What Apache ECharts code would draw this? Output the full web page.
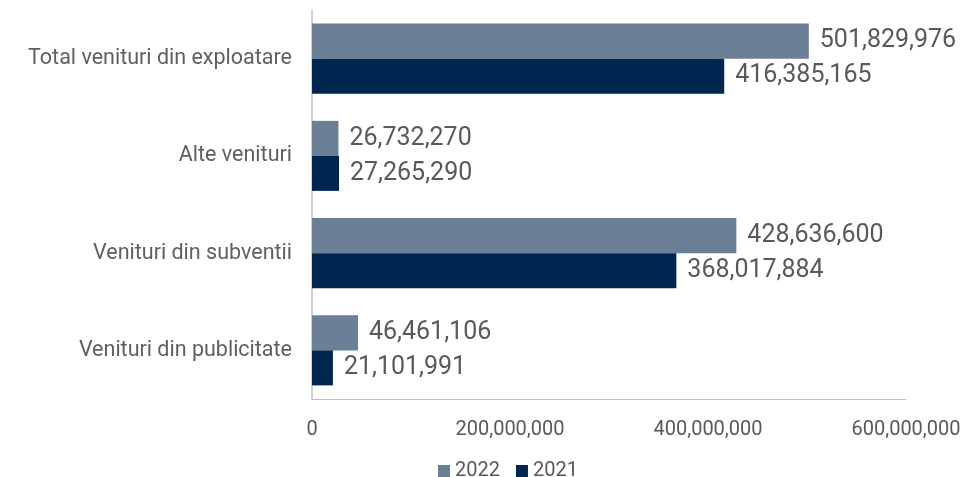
<!DOCTYPE html>
<html><head><meta charset="utf-8">
<script src="https://cdn.jsdelivr.net/npm/echarts@6/dist/echarts.min.js"></script>
<style>html,body{margin:0;padding:0;background:#fff}#c{width:964px;height:477px}</style>
</head><body><div id="c"></div>
<script>
const categories = ["Total venituri din exploatare", "Alte venituri", "Venituri din subventii", "Venituri din publicitate"];
const values2022 = [501829976, 26732270, 428636600, 46461106];
const values2021 = [416385165, 27265290, 368017884, 21101991];
const seriesNames = ["2022", "2021"];
const xTicks = [0, 200000000, 400000000, 600000000];

const fmt = v => Number(v).toLocaleString('en-US');
const chart = echarts.init(document.getElementById('c'), null, {renderer: 'canvas'});
const font = 'Roboto, "Liberation Sans", sans-serif';
const lbl = {show: true, position: 'right', distance: 11, fontSize: 25, color: '#595959', fontFamily: font, formatter: p => fmt(p.value)};
chart.setOption({
  animation: false,
  textStyle: {fontFamily: font},
  grid: {left: 312, right: 58, top: 10, bottom: 78, containLabel: false},
  legend: {
    data: seriesNames, left: 433, top: 456,
    icon: 'rect', itemWidth: 12, itemHeight: 12, itemGap: 16,
    textStyle: {fontSize: 20, color: '#595959', fontFamily: font}
  },
  xAxis: {
    type: 'value', min: xTicks[0], max: xTicks[xTicks.length - 1], interval: xTicks[1] - xTicks[0],
    axisLine: {show: true, lineStyle: {color: '#bfbfbf', width: 1}},
    axisTick: {show: false},
    splitLine: {show: false},
    axisLabel: {fontSize: 20, color: '#595959', margin: 21, formatter: v => fmt(v), fontFamily: font}
  },
  yAxis: {
    type: 'category', data: categories, inverse: true,
    axisLine: {show: true, lineStyle: {color: '#bfbfbf', width: 1.5}},
    axisTick: {show: false},
    axisLabel: {fontSize: 21.5, color: '#5f5f5f', margin: 20, fontFamily: font}
  },
  series: [
    {name: seriesNames[0], type: 'bar', data: values2022, barGap: '0%', barCategoryGap: '28%',
     itemStyle: {color: '#6b8096'}, label: lbl},
    {name: seriesNames[1], type: 'bar', data: values2021, barGap: '0%', barCategoryGap: '28%',
     itemStyle: {color: '#00264f'}, label: lbl}
  ]
});
</script></body></html>
